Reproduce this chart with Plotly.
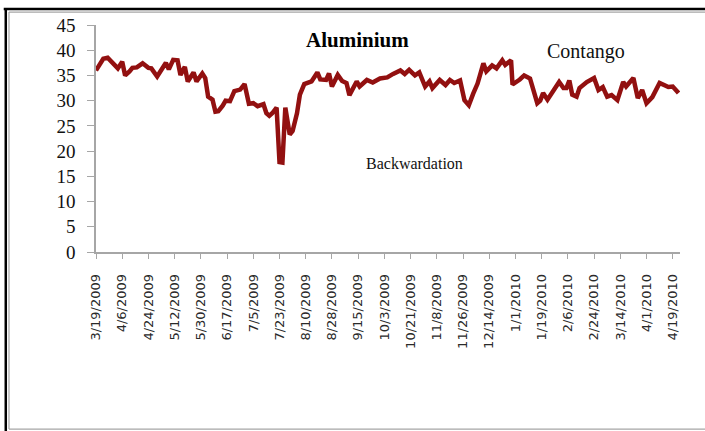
import plotly.graph_objects as go
import pandas as pd

dates = [
    "2009-03-19", "2009-03-22", "2009-03-24", "2009-03-27", "2009-03-30", "2009-04-01",
    "2009-04-03", "2009-04-06", "2009-04-08", "2009-04-11", "2009-04-13", "2009-04-16",
    "2009-04-20", "2009-04-24", "2009-04-26", "2009-04-30", "2009-05-03", "2009-05-06",
    "2009-05-08", "2009-05-11", "2009-05-14", "2009-05-16", "2009-05-19", "2009-05-21",
    "2009-05-25", "2009-05-27", "2009-05-31", "2009-06-02", "2009-06-04", "2009-06-07",
    "2009-06-09", "2009-06-11", "2009-06-14", "2009-06-16", "2009-06-19", "2009-06-22",
    "2009-06-26", "2009-06-29", "2009-07-02", "2009-07-05", "2009-07-08", "2009-07-12",
    "2009-07-14", "2009-07-16", "2009-07-18", "2009-07-21", "2009-07-23", "2009-07-25",
    "2009-07-27", "2009-07-30", "2009-08-01", "2009-08-04", "2009-08-06", "2009-08-09",
    "2009-08-14", "2009-08-18", "2009-08-20", "2009-08-24", "2009-08-26", "2009-08-28",
    "2009-09-01", "2009-09-04", "2009-09-07", "2009-09-09", "2009-09-14", "2009-09-16",
    "2009-09-21", "2009-09-25", "2009-09-30", "2009-10-05", "2009-10-09", "2009-10-14",
    "2009-10-17", "2009-10-20", "2009-10-24", "2009-10-27", "2009-10-31", "2009-11-03",
    "2009-11-05", "2009-11-10", "2009-11-14", "2009-11-17", "2009-11-20", "2009-11-24",
    "2009-11-27", "2009-11-30", "2009-12-03", "2009-12-06", "2009-12-10", "2009-12-12",
    "2009-12-16", "2009-12-19", "2009-12-23", "2009-12-25", "2009-12-29", "2009-12-30",
    "2010-01-04", "2010-01-07", "2010-01-11", "2010-01-16", "2010-01-18", "2010-01-20",
    "2010-01-23", "2010-01-27", "2010-01-31", "2010-02-03", "2010-02-05", "2010-02-07",
    "2010-02-09", "2010-02-12", "2010-02-14", "2010-02-19", "2010-02-24", "2010-02-27",
    "2010-03-02", "2010-03-05", "2010-03-08", "2010-03-12", "2010-03-16", "2010-03-18",
    "2010-03-23", "2010-03-26", "2010-03-29", "2010-04-01", "2010-04-05", "2010-04-10",
    "2010-04-14", "2010-04-16", "2010-04-19", "2010-04-23",
]
values = [
    36.0, 37.5, 38.3, 38.5, 37.5, 37.0,
    36.4, 37.7, 35.0, 35.8, 36.5, 36.6,
    37.4, 36.5, 36.4, 34.8, 36.0, 37.5,
    36.2, 38.1, 38.0, 35.1, 36.7, 33.8,
    35.6, 33.8, 35.4, 34.5, 30.8, 30.2,
    27.8, 27.9, 29.0, 30.0, 29.9, 31.9,
    32.2, 33.3, 29.4, 29.5, 28.9, 29.3,
    27.5, 27.0, 27.5, 28.6, 17.8, 17.7,
    28.6, 23.3, 24.0, 27.5, 31.2, 33.3,
    33.8, 35.6, 34.2, 34.1, 35.4, 32.8,
    35.1, 33.9, 33.5, 31.1, 33.8, 32.8,
    34.1, 33.6, 34.4, 34.6, 35.3, 36.0,
    35.3, 36.1, 35.0, 35.6, 32.8, 33.8,
    32.5, 34.1, 33.1, 34.1, 33.5, 34.0,
    30.1, 29.1, 31.4, 33.4, 37.4, 35.8,
    37.0, 36.4, 38.0, 37.1, 38.0, 33.2,
    34.2, 35.0, 34.4, 29.5, 30.0, 31.5,
    30.2, 32.0, 33.7, 32.5, 32.5, 34.0,
    31.2, 30.8, 32.5, 33.7, 34.5, 32.1,
    32.7, 30.8, 31.1, 30.1, 33.7, 32.8,
    34.5, 30.5, 32.1, 29.5, 30.7, 33.5,
    33.0, 32.7, 32.8, 31.5,
]

tick_labels = [
    "3/19/2009", "4/6/2009", "4/24/2009", "5/12/2009", "5/30/2009", "6/17/2009",
    "7/5/2009", "7/23/2009", "8/10/2009", "8/28/2009", "9/15/2009", "10/3/2009",
    "10/21/2009", "11/8/2009", "11/26/2009", "12/14/2009", "1/1/2010", "1/19/2010",
    "2/6/2010", "2/24/2010", "3/14/2010", "4/1/2010", "4/19/2010",
]
tick_vals = [pd.to_datetime(t, format="%m/%d/%Y") for t in tick_labels]
y_ticks = [0, 5, 10, 15, 20, 25, 30, 35, 40, 45]

fig = go.Figure()
fig.add_trace(go.Scatter(
    x=pd.to_datetime(dates), y=values, mode="lines",
    line=dict(color="#921010", width=4.5), hoverinfo="skip", showlegend=False,
))

serif = "Liberation Serif"
fig.update_layout(
    width=705, height=431,
    margin=dict(l=96, r=25, t=25, b=179),
    paper_bgcolor="white", plot_bgcolor="white",
    xaxis=dict(
        range=["2009-03-19", "2010-04-24"],
        tickvals=tick_vals, ticktext=tick_labels, tickangle=-90,
        showgrid=False, zeroline=False,
        showline=True, linecolor="#a6a6a6", linewidth=1.5,
        ticks="outside", ticklen=5, tickcolor="#a6a6a6", tickwidth=1.2,
        tickfont=dict(family="DejaVu Sans", size=13, color="#2a2a2a"),
        ticklabelstandoff=10,
    ),
    yaxis=dict(
        range=[0, 45], tickvals=y_ticks,
        showgrid=False, zeroline=False,
        showline=True, linecolor="#a6a6a6", linewidth=1.5,
        ticks="outside", ticklen=7, tickcolor="#a6a6a6", tickwidth=1.2,
        tickfont=dict(family=serif, size=19, color="#111111"),
        ticklabelstandoff=8,
    ),
)

ann = dict(xref="paper", yref="paper", showarrow=False, xanchor="center", yanchor="middle")
fig.add_annotation(text="<b>Aluminium</b>", x=0.4486, y=0.934,
                   font=dict(family=serif, size=21, color="black"), **ann)
fig.add_annotation(text="Contango", x=0.839, y=0.885,
                   font=dict(family=serif, size=20, color="#111111"), **ann)
fig.add_annotation(text="Backwardation", x=0.546, y=0.388,
                   font=dict(family=serif, size=16, color="#111111"), **ann)

# outer frame
fig.add_shape(type="line", xref="paper", yref="paper", x0=-0.158, x1=1.05, y0=1.0705, y1=1.0705,
              line=dict(color="black", width=2.5))
fig.add_shape(type="line", xref="paper", yref="paper", x0=-0.1545, x1=-0.1545, y0=1.072, y1=-0.80,
              line=dict(color="black", width=2.5))
fig.add_shape(type="line", xref="paper", yref="paper", x0=-0.149, x1=1.05, y0=1.057, y1=1.057,
              line=dict(color="#a6a6a6", width=1.2))
fig.add_shape(type="line", xref="paper", yref="paper", x0=-0.149, x1=-0.149, y0=1.057, y1=-0.78,
              line=dict(color="#a6a6a6", width=1.2))
fig.add_shape(type="line", xref="paper", yref="paper", x0=-0.149, x1=1.05, y0=-0.78, y1=-0.78,
              line=dict(color="#a6a6a6", width=1.2))

fig.write_html("out.html")
